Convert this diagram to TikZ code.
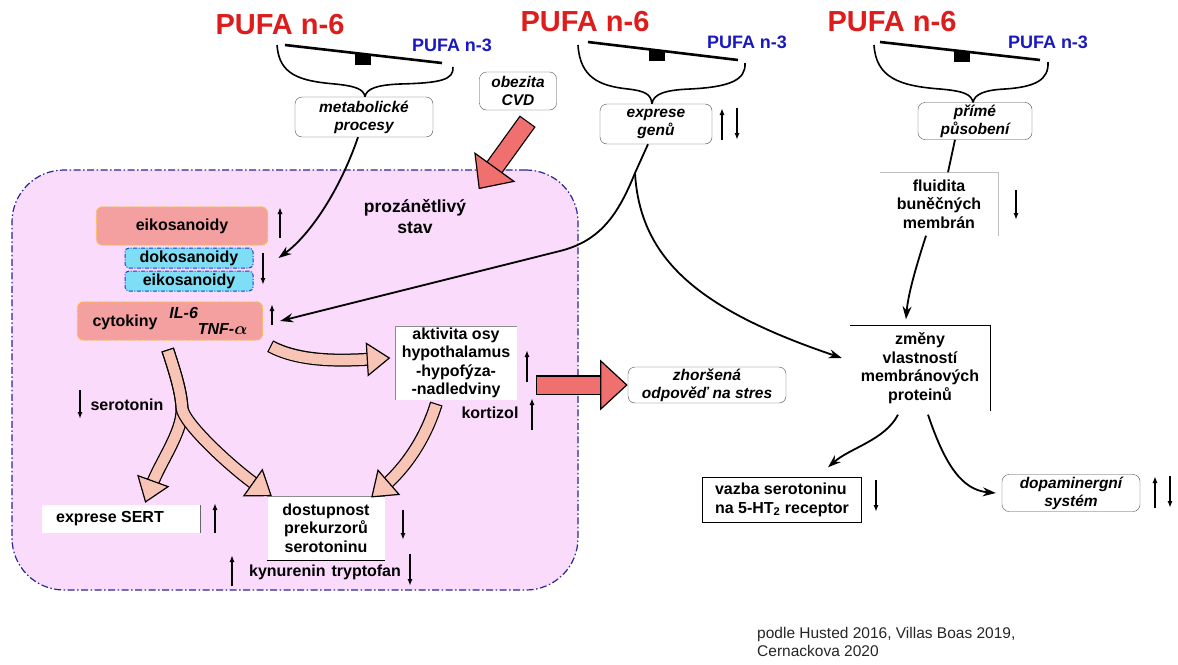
\documentclass[tikz,border=0pt]{standalone}
\usepackage{fontspec}
\setmainfont{Liberation Sans}
\usepackage{amsmath}
\usepackage{tikz}
\usetikzlibrary{arrows.meta,decorations.markings}
\definecolor{pufared}{RGB}{222,28,28}
\definecolor{pufablue}{RGB}{25,25,190}
\definecolor{zanetpink}{RGB}{251,219,251}
\definecolor{zanetblue}{RGB}{40,40,150}
\definecolor{salmon}{RGB}{244,160,160}
\definecolor{salmonedge}{RGB}{245,185,80}
\definecolor{cyanfill}{RGB}{125,222,246}
\definecolor{cyanedge}{RGB}{30,60,200}
\definecolor{arrowpink}{RGB}{248,196,182}
\definecolor{arrowred}{RGB}{240,112,112}

\begin{document}
\begin{tikzpicture}[x=1pt,y=-1pt,
   every node/.style={inner sep=0pt,align=center},
   pufasix/.style={text=pufared,font=\bfseries\fontsize{29}{31}\selectfont},
   pufathree/.style={text=pufablue,font=\bfseries\fontsize{18}{20}\selectfont},
   beam/.style={line width=2.6pt},
   brace/.style={line width=1.6pt},
   ibox/.style={draw=black!70,thin,rounded corners=7pt,fill=white,font=\bfseries\itshape\fontsize{15.5}{18}\selectfont},
   wbox/.style={fill=white,font=\bfseries\fontsize{16}{18.5}\selectfont},
   lbl/.style={font=\bfseries\fontsize{16}{18.5}\selectfont},
   sbox/.style={fill=salmon,draw=salmonedge,densely dotted,line width=1.4pt,rounded corners=6pt,font=\bfseries\fontsize{16}{18.5}\selectfont},
   cbox/.style={fill=cyanfill,draw=cyanedge,dash pattern=on 4pt off 1.5pt on 1pt off 1.5pt,line width=1pt,rounded corners=4pt,font=\bfseries\fontsize{16}{18.5}\selectfont},
   zanet/.style={fill=zanetpink,draw=zanetblue,dash pattern=on 7pt off 2.5pt on 1.5pt off 2.5pt,line width=1.2pt,rounded corners=52pt,minimum width=566pt,minimum height=420pt},
   rim/.style={draw=black!45,thin},
   link/.style={-{Stealth[length=13pt,width=9pt]},line width=1.8pt},
   ind/.style={-{Latex[length=7pt,width=5pt]},line width=1.4pt},
   fatpink/.style={draw=arrowpink,line width=10.5pt,preaction={draw=black,line width=13pt,shorten <=-1.2pt},
      decoration={markings,mark=at position 1 with {\filldraw[fill=arrowpink,draw=black,line width=1.2pt] (-6pt,-16pt) -- (16pt,0pt) -- (-6pt,16pt) -- cycle;}},postaction={decorate}},
   fatred/.style={draw=arrowred,line width=17pt,preaction={draw=black,line width=19.5pt,shorten <=-1.2pt},
      decoration={markings,mark=at position 1 with {\filldraw[fill=arrowred,draw=black,line width=1.2pt] (-5pt,-24pt) -- (21pt,0pt) -- (-5pt,24pt) -- cycle;}},postaction={decorate}}]
\useasboundingbox (0,0) rectangle (1178,664);
\fill[white] (0,0) rectangle (1178,664);

\node[pufasix] (nsixa) at (280,25) {PUFA n-6};
\node[pufathree] (nthreea) at (452,45) {PUFA n-3};
\draw[beam] (285,45) -- (442,63);
\fill (355,54) rectangle (371,65);
\draw[brace] (277,45) .. controls (279,75) and (300,81) .. (335,84) .. controls (355,86) and (364,89) .. (365,97);
\draw[brace] (453,67) .. controls (454,80) and (440,83) .. (400,84) .. controls (376,85) and (366,89) .. (365,97);

\node[pufasix] (nsixb) at (585,22) {PUFA n-6};
\node[pufathree] (nthreeb) at (747,42) {PUFA n-3};
\draw[beam] (588,42) -- (738,60);
\fill (649,50) rectangle (665,61);
\draw[brace] (578,45) .. controls (580,78) and (600,86) .. (628,89) .. controls (645,91) and (651,94) .. (652,104);
\draw[brace] (745,63) .. controls (746,80) and (730,87) .. (690,89) .. controls (665,90) and (653,94) .. (652,104);

\node[pufasix] (nsixc) at (892,22) {PUFA n-6};
\node[pufathree] (nthreec) at (1048,42) {PUFA n-3};
\draw[beam] (880,42) -- (1040,60);
\fill (954,51) rectangle (970,62);
\draw[brace] (874,45) .. controls (876,78) and (900,86) .. (940,89) .. controls (963,91) and (972,94) .. (973,103);
\draw[brace] (1048,62) .. controls (1049,80) and (1035,87) .. (1005,89) .. controls (985,90) and (974,94) .. (973,103);

\node[ibox,minimum width=138pt,minimum height=40pt] (metab) at (364,117) {metabolické\\procesy};
\node[ibox,minimum width=77pt,minimum height=38pt] (obez) at (518,91) {obezita\\CVD};
\node[ibox,minimum width=112pt,minimum height=40pt] (expr) at (656,124) {exprese\\genů};
\node[ibox,minimum width=114pt,minimum height=37pt] (prime) at (975,121) {přímé\\působení};
\draw[ind] (722,140) -- (722,108);
\draw[ind] (737,108) -- (737,140);

\node[zanet] (pz) at (295,380) {};
\node[lbl,font=\bfseries\fontsize{17.5}{21}\selectfont] (pzlabel) at (415,217) {prozánětlivý\\stav};

\node[sbox,minimum width=171pt,minimum height=38pt] (eika) at (182,226) {eikosanoidy};
\node[cbox,minimum width=128pt,minimum height=20pt] (doko) at (189,258) {dokosanoidy};
\node[cbox,minimum width=128pt,minimum height=20pt] (eikb) at (189,281) {eikosanoidy};
\node[sbox,minimum width=185pt,minimum height=38pt] (cyto) at (170,321) {cytokiny\hspace{12pt}\raisebox{8pt}{\itshape IL-6}\raisebox{-8pt}{\itshape TNF-$\boldsymbol{\alpha}$}};
\draw[ind] (280,238) -- (280,207);
\draw[ind] (263,253) -- (263,285);
\draw[ind] (272,325) -- (272,304);

\node[wbox,minimum width=121pt,minimum height=73pt] (aktiv) at (456,363) {aktivita osy\\hypothalamus\\-hypofýza-\\-nadledviny};
\draw[rim] (aktiv.south west) -- (aktiv.north west) -- (aktiv.north east);
\draw[ind] (527,382) -- (527,350);
\node[lbl] (kort) at (490,413) {kortizol};
\draw[ind] (532,430) -- (532,398);
\node[ibox,minimum width=158pt,minimum height=36pt] (zhor) at (707,385) {zhoršená\\odpověď na stres};

\node[lbl] (sero) at (127,405) {serotonin};
\draw[ind] (80,390) -- (80,419);
\node[wbox,minimum width=158pt,minimum height=28pt] (sert) at (121,519) {exprese SERT\hspace*{22pt}};
\draw[rim,draw=black!60] (sert.north east) -- (sert.south east);
\draw[ind] (215,533) -- (215,503);
\node[wbox,minimum width=117pt,minimum height=63pt] (dost) at (326,528) {dostupnost\\prekurzorů\\serotoninu};
\draw[rim] (dost.north west) -- (dost.north east);
\draw[thin] (dost.south west) -- (dost.south east);
\draw[ind] (403,510) -- (403,540);
\node[lbl] (kyn) at (325,572) {kynurenin\hspace{6pt}tryptofan};
\draw[ind] (232,586) -- (232,555);
\draw[ind] (410,554) -- (410,586);

\node[wbox,minimum width=118pt,minimum height=63pt] (fluid) at (939,204) {fluidita\\buněčných\\membrán};
\draw[rim,draw=black!25] (fluid.north west) -- (fluid.north east) -- (fluid.south east);
\draw[ind] (1016,190) -- (1016,220);
\node[wbox,minimum width=140pt,minimum height=85pt] (zmeny) at (920,368) {změny\\vlastností\\membránových\\proteinů};
\draw[thin] (zmeny.north west) -- (zmeny.north east) -- (zmeny.south east);
\node[wbox,draw,thin,minimum width=159pt,minimum height=45pt,align=left] (vazba) at (782,500) {vazba serotoninu\\na 5-HT\textsubscript{2} receptor};
\draw[ind] (876,480) -- (876,512);
\node[ibox,minimum width=138pt,minimum height=37pt] (dopa) at (1071,493) {dopaminergní\\systém};
\draw[ind] (1155,508) -- (1155,476);
\draw[ind] (1170,476) -- (1170,508);

\node[font=\fontsize{15.5}{18}\selectfont,text=black!85,align=left,anchor=north west] (cite) at (757,627) {podle Husted 2016, Villas Boas 2019,\\Cernackova 2020};

\draw[link] ([xshift=-6pt]metab.south) .. controls (340,190) and (310,235) .. ([xshift=25pt]doko.east);
\coordinate (br) at (635,173);
\draw[line width=1.8pt] ([xshift=-8pt]expr.south) -- (br);
\draw[link] (br) .. controls (618,215) and (600,241) .. (560,251) -- ([xshift=17pt]cyto.east);
\draw[link] (br) .. controls (640,260) and (700,310) .. ([xshift=-8pt,yshift=10pt]zmeny.west);
\draw[line width=1.8pt] ([xshift=-20pt]prime.south) -- ([xshift=9pt]fluid.north);
\draw[link] ([xshift=-13pt]fluid.south) .. controls (915,270) and (908,295) .. ([xshift=-14pt,yshift=6pt]zmeny.north);
\draw[link] ([xshift=-22pt,yshift=-4pt]zmeny.south) .. controls (885,440) and (850,448) .. ([xshift=46pt,yshift=10pt]vazba.north);
\draw[link] ([xshift=8pt,yshift=-4pt]zmeny.south) .. controls (945,465) and (962,490) .. ([xshift=-6pt]dopa.west);

\draw[fatpink] ([xshift=8pt,yshift=-6pt]cyto.south east) .. controls (300,362) and (340,361) .. ([xshift=-22pt,yshift=4pt]aktiv.west);
\draw[fatpink] ([xshift=-2pt,yshift=-10pt]cyto.south) .. controls (176,375) and (181,392) .. (182,408) .. controls (183,432) and (160,462) .. ([xshift=30pt,yshift=18pt]sert.north);
\draw[fatpink] ([xshift=-2pt,yshift=-10pt]cyto.south) .. controls (176,375) and (181,392) .. (182,408) .. controls (183,422) and (228,465) .. ([xshift=-68pt,yshift=10pt]dost.north);
\draw[fatpink] ([xshift=-20pt,yshift=-5pt]aktiv.south) .. controls (425,440) and (405,468) .. ([xshift=58pt,yshift=10pt]dost.north);

\draw[fatred] ([xshift=9pt,yshift=-12pt]obez.south) -- ([xshift=196.5pt,yshift=-2pt]pz.north);
\draw[fatred] ([xshift=20pt,yshift=-22pt]aktiv.east) -- ([xshift=-22pt]zhor.west);
\end{tikzpicture}
\end{document}
